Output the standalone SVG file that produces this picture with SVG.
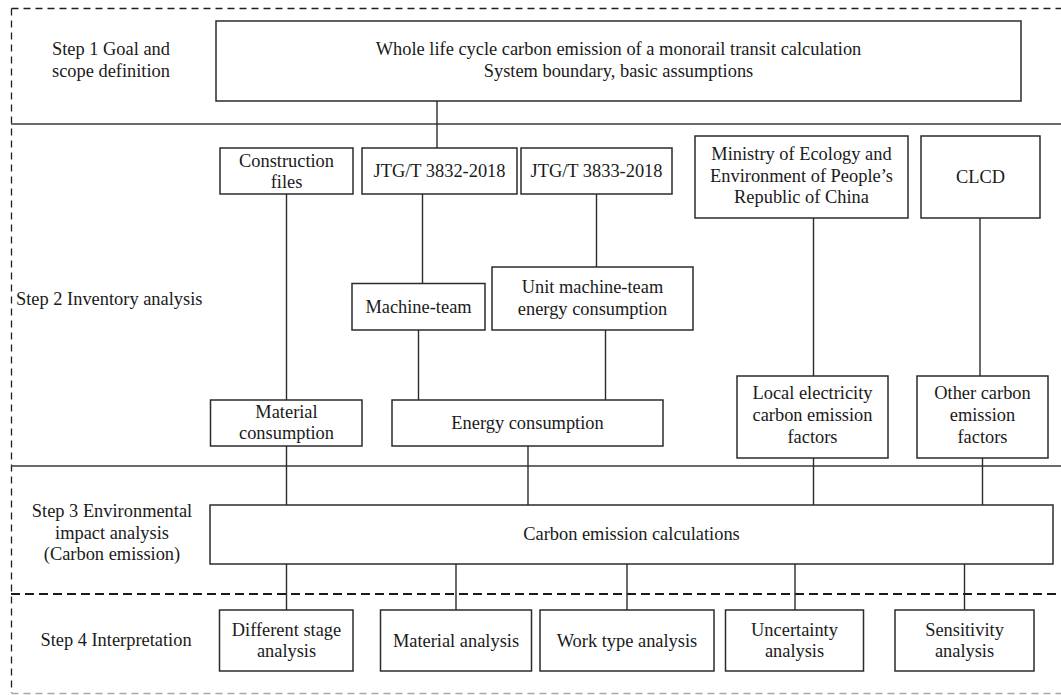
<svg xmlns="http://www.w3.org/2000/svg" width="1061" height="695" viewBox="0 0 1061 695">
<style>
text{font-family:"Liberation Serif","Times New Roman",serif;font-size:18.4px;fill:#1a1a1a;text-anchor:middle}
.l{text-anchor:start}
.box{fill:#fff;stroke:#2b2b2b;stroke-width:1.5}
.con{stroke:#2b2b2b;stroke-width:1.4;fill:none}
.sep{stroke:#3a3a3a;stroke-width:1.4;fill:none}
.dash{stroke:#1f1f1f;stroke-width:1.3;stroke-dasharray:7 5;fill:none}
.dashg{stroke:#a8a8a8;stroke-width:1.3;stroke-dasharray:7 5;fill:none}
.dashb{stroke:#1a1a1a;stroke-width:2;stroke-dasharray:9 5;fill:none}
</style>
<rect width="1061" height="695" fill="#fff"/>
<g id="frame">
<line class="dash" x1="11.5" y1="8.5" x2="1061" y2="8.5"/>
<line class="dash" x1="11.5" y1="8.5" x2="11.5" y2="693"/>
<line class="dashg" x1="11.5" y1="693.5" x2="1061" y2="693.5"/>
<line class="sep" x1="11" y1="124" x2="1061" y2="124"/>
<line class="sep" x1="11" y1="466" x2="1061" y2="466"/>
<line class="dashb" x1="11" y1="594" x2="1061" y2="594"/>
</g>
<g id="step-labels">
<text x="111" y="55">Step 1 Goal and</text>
<text x="111" y="77">scope definition</text>
<text class="l" x="16" y="305">Step 2 Inventory analysis</text>
<text x="112" y="517">Step 3 Environmental</text>
<text x="112" y="539">impact analysis</text>
<text x="112" y="560">(Carbon emission)</text>
<text x="116" y="646">Step 4 Interpretation</text>
</g>
<g id="connectors">
<line class="con" x1="437" y1="101" x2="437" y2="148"/>
<line class="con" x1="286.5" y1="194" x2="286.5" y2="400"/>
<line class="con" x1="422.5" y1="194" x2="422.5" y2="283.5"/>
<line class="con" x1="596.5" y1="194" x2="596.5" y2="267"/>
<line class="con" x1="813.5" y1="218" x2="813.5" y2="376"/>
<line class="con" x1="980" y1="218" x2="980" y2="376"/>
<line class="con" x1="418.5" y1="330" x2="418.5" y2="400"/>
<line class="con" x1="605.5" y1="330" x2="605.5" y2="400"/>
<line class="con" x1="286.5" y1="446" x2="286.5" y2="505"/>
<line class="con" x1="528" y1="446" x2="528" y2="505"/>
<line class="con" x1="813.5" y1="458" x2="813.5" y2="505"/>
<line class="con" x1="982.5" y1="458" x2="982.5" y2="505"/>
<line class="con" x1="286.5" y1="564" x2="286.5" y2="610"/>
<line class="con" x1="456" y1="564" x2="456" y2="610"/>
<line class="con" x1="627" y1="564" x2="627" y2="610"/>
<line class="con" x1="795" y1="564" x2="795" y2="610"/>
<line class="con" x1="964.5" y1="564" x2="964.5" y2="610"/>
</g>
<g id="goal">
<rect class="box" x="216" y="21" width="805" height="80"/>
<text x="618.5" y="55">Whole life cycle carbon emission of a monorail transit calculation</text>
<text x="618.5" y="77">System boundary, basic assumptions</text>
</g>
<g id="construction-files">
<rect class="box" x="220" y="148" width="133" height="46"/>
<text x="286.5" y="167">Construction</text>
<text x="286.5" y="188">files</text>
</g>
<g id="jtg3832">
<rect class="box" x="362" y="148" width="155" height="46"/>
<text x="439.5" y="177">JTG/T 3832-2018</text>
</g>
<g id="jtg3833">
<rect class="box" x="521" y="148" width="151" height="46"/>
<text x="596.5" y="177">JTG/T 3833-2018</text>
</g>
<g id="ministry">
<rect class="box" x="695" y="136" width="213" height="82"/>
<text x="801.5" y="160">Ministry of Ecology and</text>
<text x="801.5" y="182">Environment of People’s</text>
<text x="801.5" y="203">Republic of China</text>
</g>
<g id="clcd">
<rect class="box" x="921" y="136" width="119" height="82"/>
<text x="980.5" y="183">CLCD</text>
</g>
<g id="machine-team">
<rect class="box" x="352" y="283.5" width="133" height="46.5"/>
<text x="418.5" y="313">Machine-team</text>
</g>
<g id="unit-machine-team">
<rect class="box" x="492" y="267" width="201" height="63"/>
<text x="592.5" y="293">Unit machine-team</text>
<text x="592.5" y="315">energy consumption</text>
</g>
<g id="material-consumption">
<rect class="box" x="210.5" y="400" width="151.5" height="46"/>
<text x="286.5" y="418">Material</text>
<text x="286.5" y="439">consumption</text>
</g>
<g id="energy-consumption">
<rect class="box" x="392" y="400" width="271" height="46"/>
<text x="527.5" y="429">Energy consumption</text>
</g>
<g id="local-electricity">
<rect class="box" x="737" y="376" width="151" height="82"/>
<text x="812.5" y="399">Local electricity</text>
<text x="812.5" y="421">carbon emission</text>
<text x="812.5" y="443">factors</text>
</g>
<g id="other-factors">
<rect class="box" x="917" y="376" width="131" height="82"/>
<text x="982.5" y="399">Other carbon</text>
<text x="982.5" y="421">emission</text>
<text x="982.5" y="443">factors</text>
</g>
<g id="carbon-calculations">
<rect class="box" x="210" y="505" width="843" height="59"/>
<text x="631.5" y="540">Carbon emission calculations</text>
</g>
<g id="different-stage">
<rect class="box" x="219.5" y="610" width="133.5" height="61"/>
<text x="286.5" y="636">Different stage</text>
<text x="286.5" y="657">analysis</text>
</g>
<g id="material-analysis">
<rect class="box" x="380.5" y="610" width="151" height="61"/>
<text x="456" y="647">Material analysis</text>
</g>
<g id="work-type">
<rect class="box" x="540" y="610" width="174" height="61"/>
<text x="627" y="647">Work type analysis</text>
</g>
<g id="uncertainty">
<rect class="box" x="725.5" y="610" width="138" height="61"/>
<text x="794.5" y="636">Uncertainty</text>
<text x="794.5" y="657">analysis</text>
</g>
<g id="sensitivity">
<rect class="box" x="895" y="610" width="139" height="61"/>
<text x="964.5" y="636">Sensitivity</text>
<text x="964.5" y="657">analysis</text>
</g>
</svg>
